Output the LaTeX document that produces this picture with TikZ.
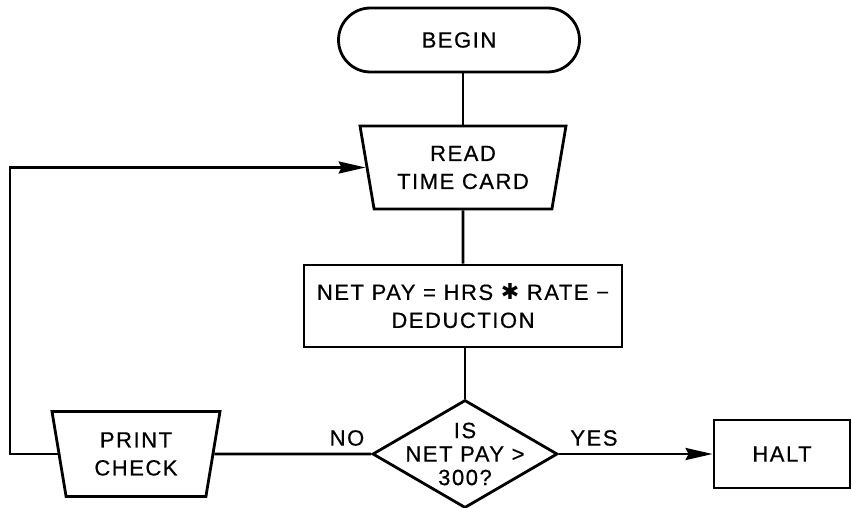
\documentclass[tikz,border=0pt]{standalone}
\usepackage{fontspec}
\setmainfont{Liberation Sans}[LetterSpace=7,FakeBold=0.6]
\newfontfamily\symfont{DejaVu Sans}
\usetikzlibrary{shapes.geometric,shapes.misc,arrows.meta,calc}
\begin{document}
\begin{tikzpicture}[x=1pt,y=-1pt,
  line width=2.8pt,
  every node/.style={font=\fontsize{22}{28}\selectfont, align=center, inner sep=0pt},
  terminal/.style={draw, rounded rectangle, minimum width=241pt, minimum height=64pt},
  iobox/.style={draw, trapezium, trapezium angle=72, trapezium stretches body,
                shape border rotate=180, minimum height=83pt},
  process/.style={draw, rectangle, minimum height=82pt},
  decision/.style={draw, diamond, minimum width=185pt, minimum height=108pt},
  flow/.style={line width=2.8pt},
  arrowflow/.style={flow, -{Stealth[length=27pt,width=12pt,inset=3pt]}},
  qtext/.style={font=\fontsize{22}{23.5}\selectfont}
]
\useasboundingbox (0,0) rectangle (852,508);

% flowchart boxes
\node[terminal] (begin) at (459,40) {BEGIN};
\node[iobox, minimum width=206pt] (read) at (463,167.5) {READ\\TIME CARD};
\node[process, minimum width=318pt] (net) at (463,306)
  {NET PAY = HRS {\symfont ✱} RATE −\\DEDUCTION};
\node[decision] (q) at (465,454) {};
\node[qtext] (qlabel) at (q.center) {IS\\NET PAY >\\300?};
\node[iobox, minimum width=168pt, minimum height=85pt] (print) at (136,454) {PRINT\\CHECK};
\node[process, minimum width=136pt, minimum height=68pt] (halt) at (782,454) {HALT};

% branch labels
\node (no) at (347,438) {NO};
\node (yes) at (594,438) {YES};

% left edge of the return loop
\coordinate (loopx) at (10,0);

% connectors
\draw[flow] (begin.south -| read.north) -- (read.north);
\draw[flow] (read.south) -- (net.north);
\draw[flow] (net.south -| q.north) -- (q.north);
\draw[flow] (q.west) -- (print.east);
\draw[arrowflow] (q.east) -- (halt.west);
\draw[arrowflow] (print.west) -- (print.west -| loopx) |- (read.west);
\end{tikzpicture}
\end{document}
